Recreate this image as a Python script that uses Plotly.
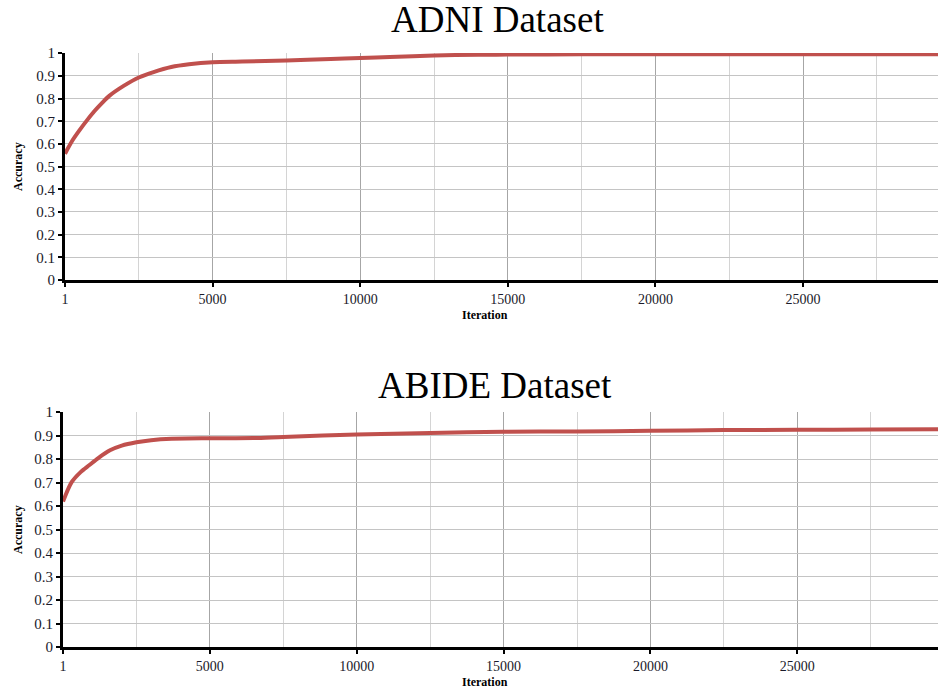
import plotly.graph_objects as go

# ADNI dataset accuracy curve
adni_iter = [1, 250, 500, 750, 1000, 1250, 1500, 2000, 2500, 3000, 3600, 4200, 5000, 6000,
             7500, 9000, 10000, 11000, 12500, 14000, 15000, 17500, 20000, 25000, 29600]
adni_acc = [0.557, 0.615, 0.662, 0.705, 0.745, 0.78, 0.812, 0.857, 0.893, 0.917, 0.939, 0.951,
            0.960, 0.963, 0.968, 0.975, 0.979, 0.983, 0.990, 0.993, 0.994, 0.995, 0.995, 0.996, 0.996]

# ABIDE dataset accuracy curve
abide_iter = [1, 300, 600, 900, 1200, 1600, 2000, 2500, 3000, 3700, 5000, 6500, 7500, 10000,
              12500, 15000, 17500, 20000, 22500, 25000, 27500, 29800]
abide_acc = [0.62, 0.703, 0.745, 0.775, 0.805, 0.838, 0.858, 0.872, 0.881, 0.887, 0.889, 0.890, 0.895,
             0.905, 0.912, 0.917, 0.918, 0.921, 0.924, 0.925, 0.926, 0.927]

titles = ["ADNI Dataset", "ABIDE Dataset"]

W, H = 938, 691
LINE = "#c0504d"
SERIF = "Liberation Serif, Times New Roman, serif"

fig = go.Figure()
fig.add_trace(go.Scatter(x=adni_iter, y=adni_acc, mode="lines",
                         line=dict(color=LINE, width=4, shape="spline", smoothing=0.8),
                         xaxis="x", yaxis="y", showlegend=False))
fig.add_trace(go.Scatter(x=abide_iter, y=abide_acc, mode="lines",
                         line=dict(color=LINE, width=4, shape="spline", smoothing=0.8),
                         xaxis="x2", yaxis="y2", showlegend=False))

def px_x(p):
    return p / W

def px_y(p):
    return 1 - p / H

common_x = dict(tick0=0, dtick=5000, tickformat="d", labelalias={"0": "1"}, automargin=False,
                showline=True, linewidth=3, linecolor="black", mirror=False,
                ticks="outside", ticklen=4, tickwidth=2, tickcolor="black",
                showgrid=True, gridcolor="#a6a6a6", gridwidth=1.3,
                minor=dict(dtick=2500, tick0=0, showgrid=True, gridcolor="#d4d4d4", gridwidth=1.3, ticks=""),
                tickfont=dict(family=SERIF, size=14, color="#1a1a2a"), zeroline=False)
common_y = dict(range=[0, 1.001], tick0=0, dtick=0.1, automargin=False,
                showline=True, linewidth=3, linecolor="black",
                ticks="outside", ticklen=4, tickwidth=2, tickcolor="black",
                showgrid=True, gridcolor="#c4c4c4", gridwidth=1.3,
                tickfont=dict(family=SERIF, size=15, color="#1a1a2a"), zeroline=False)

fig.update_layout(
    width=W, height=H, margin=dict(l=0, r=0, t=0, b=0), autosize=False,
    paper_bgcolor="white", plot_bgcolor="white",
    xaxis=dict(domain=[px_x(65), 1], range=[0, 29570], anchor="y", **common_x),
    yaxis=dict(domain=[px_y(280), px_y(53)], anchor="x", **common_y),
    xaxis2=dict(domain=[px_x(63), 1], range=[0, 29790], anchor="y2", **common_x),
    yaxis2=dict(domain=[px_y(647), px_y(412)], anchor="x2", **common_y),
)

ann = []
for t, tx, ty in zip(titles, [497, 495], [42, 408]):
    ann.append(dict(text=t, x=px_x(tx), y=px_y(ty), xref="paper", yref="paper",
                    showarrow=False, font=dict(family=SERIF, size=37, color="black"),
                    xanchor="center", yanchor="bottom"))
for ty in [315, 682]:
    ann.append(dict(text="<b>Iteration</b>", x=px_x(485), y=px_y(ty), xref="paper", yref="paper",
                    showarrow=False, font=dict(family=SERIF, size=12, color="black"),
                    xanchor="center", yanchor="middle"))
for ty in [167, 530]:
    ann.append(dict(text="<b>Accuracy</b>", x=px_x(18), y=px_y(ty), xref="paper", yref="paper",
                    showarrow=False, textangle=-90, font=dict(family=SERIF, size=12, color="black"),
                    xanchor="center", yanchor="middle"))
fig.update_layout(annotations=ann)

fig.write_html("out.html", config={"responsive": False, "displayModeBar": False},
               post_script="document.body.style.margin='0';document.documentElement.style.overflow='hidden';")
